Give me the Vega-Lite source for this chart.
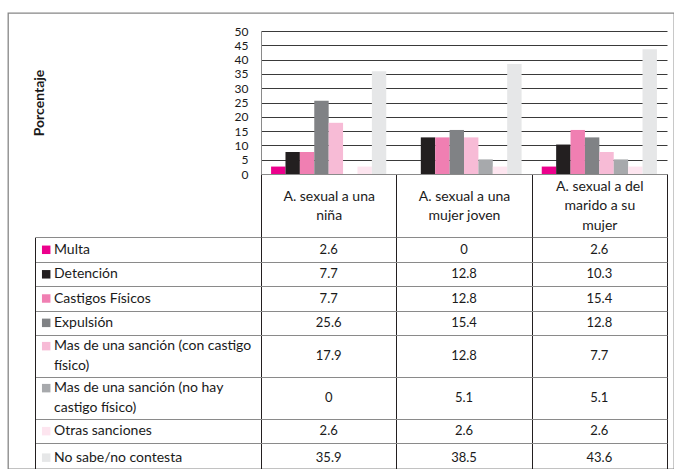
{
  "$schema": "https://vega.github.io/schema/vega-lite/v6.json",
  "width": 666,
  "height": 456,
  "padding": {"left": 8, "top": 13, "right": 0, "bottom": 0},
  "autosize": {"type": "none"},
  "background": "white",
  "config": {
    "font": "Lato",
    "view": {"stroke": "#868686", "strokeWidth": 1.3},
    "axis": {"labelFont": "Lato", "titleFont": "Lato", "labelColor": "#1a1a1a", "titleColor": "#1a1a1a"}
  },
  "datasets": {
    "datos": [
      {"categoria": "A. sexual a una niña", "serie": "Multa", "orden": 1, "valor": 2.6},
      {"categoria": "A. sexual a una mujer joven", "serie": "Multa", "orden": 1, "valor": 0},
      {"categoria": "A. sexual a del marido a su mujer", "serie": "Multa", "orden": 1, "valor": 2.6},
      {"categoria": "A. sexual a una niña", "serie": "Detención", "orden": 2, "valor": 7.7},
      {"categoria": "A. sexual a una mujer joven", "serie": "Detención", "orden": 2, "valor": 12.8},
      {"categoria": "A. sexual a del marido a su mujer", "serie": "Detención", "orden": 2, "valor": 10.3},
      {"categoria": "A. sexual a una niña", "serie": "Castigos Físicos", "orden": 3, "valor": 7.7},
      {"categoria": "A. sexual a una mujer joven", "serie": "Castigos Físicos", "orden": 3, "valor": 12.8},
      {"categoria": "A. sexual a del marido a su mujer", "serie": "Castigos Físicos", "orden": 3, "valor": 15.4},
      {"categoria": "A. sexual a una niña", "serie": "Expulsión", "orden": 4, "valor": 25.6},
      {"categoria": "A. sexual a una mujer joven", "serie": "Expulsión", "orden": 4, "valor": 15.4},
      {"categoria": "A. sexual a del marido a su mujer", "serie": "Expulsión", "orden": 4, "valor": 12.8},
      {"categoria": "A. sexual a una niña", "serie": "Mas de una sanción (con castigo\n físico)", "orden": 5, "valor": 17.9},
      {"categoria": "A. sexual a una mujer joven", "serie": "Mas de una sanción (con castigo\n físico)", "orden": 5, "valor": 12.8},
      {"categoria": "A. sexual a del marido a su mujer", "serie": "Mas de una sanción (con castigo\n físico)", "orden": 5, "valor": 7.7},
      {"categoria": "A. sexual a una niña", "serie": "Mas de una sanción (no hay\ncastigo físico)", "orden": 6, "valor": 0},
      {"categoria": "A. sexual a una mujer joven", "serie": "Mas de una sanción (no hay\ncastigo físico)", "orden": 6, "valor": 5.1},
      {"categoria": "A. sexual a del marido a su mujer", "serie": "Mas de una sanción (no hay\ncastigo físico)", "orden": 6, "valor": 5.1},
      {"categoria": "A. sexual a una niña", "serie": "Otras sanciones", "orden": 7, "valor": 2.6},
      {"categoria": "A. sexual a una mujer joven", "serie": "Otras sanciones", "orden": 7, "valor": 2.6},
      {"categoria": "A. sexual a del marido a su mujer", "serie": "Otras sanciones", "orden": 7, "valor": 2.6},
      {"categoria": "A. sexual a una niña", "serie": "No sabe/no contesta", "orden": 8, "valor": 35.9},
      {"categoria": "A. sexual a una mujer joven", "serie": "No sabe/no contesta", "orden": 8, "valor": 38.5},
      {"categoria": "A. sexual a del marido a su mujer", "serie": "No sabe/no contesta", "orden": 8, "valor": 43.6}
    ]
  },
  "data": {"name": "datos"},
  "resolve": {
    "scale": {"x": "independent", "y": "independent"},
    "axis": {"x": "independent", "y": "independent"}
  },
  "layer": [
    {
      "mark": {"type": "bar"},
      "encoding": {
        "x": {
          "field": "categoria", "type": "nominal", "sort": null,
          "scale": {"domain": ["A. sexual a una niña", "A. sexual a una mujer joven", "A. sexual a del marido a su mujer"], "range": [253, 659], "paddingInner": 0, "paddingOuter": 0},
          "axis": {
            "orient": "bottom", "offset": -295, "title": null, "labelAngle": 0,
            "labelExpr": "split(replace(replace(replace(datum.label, 'una ', 'una|'), 'del ', 'del|'), 'su ', 'su|'), '|')",
            "labelFontSize": 14, "labelLineHeight": 19.5, "labelLimit": 0, "labelPadding": -51,
            "labelBaseline": {"condition": {"test": "datum.value === 'A. sexual a del marido a su mujer'", "value": "middle"}, "value": "line-top"},
            "ticks": true, "tickBand": "extent", "tickSize": 63, "tickColor": "#231f20", "tickWidth": 1,
            "domain": true, "domainColor": "#8a8a8a", "domainWidth": 1, "grid": false
          }
        },
        "xOffset": {
          "field": "serie", "type": "nominal", "sort": null,
          "scale": {"domain": ["Multa", "Detención", "Castigos Físicos", "Expulsión", "Mas de una sanción (con castigo\n físico)", "Mas de una sanción (no hay\ncastigo físico)", "Otras sanciones", "No sabe/no contesta"], "paddingInner": 0, "paddingOuter": 0.7}
        },
        "y": {
          "field": "valor", "type": "quantitative",
          "scale": {"domain": [0, 50], "range": [161, 18], "nice": false},
          "axis": {
            "orient": "left", "offset": -253, "values": [0, 5, 10, 15, 20, 25, 30, 35, 40, 45, 50],
            "grid": true, "gridColor": "#3a3a3a", "gridWidth": 1,
            "domain": true, "domainColor": "#8a8a8a", "domainWidth": 1,
            "ticks": false, "tickSize": 0, "labelPadding": 13, "labelFontSize": 12, "labelOverlap": false,
            "title": "Porcentaje", "titleFontSize": 14, "titleFontWeight": "bold", "titleAngle": 270,
            "titleX": -221.5, "titleY": 89.5, "titleAlign": "center", "titleBaseline": "middle"
          }
        },
        "color": {
          "field": "serie", "type": "nominal", "sort": null,
          "scale": {
            "domain": ["Multa", "Detención", "Castigos Físicos", "Expulsión", "Mas de una sanción (con castigo\n físico)", "Mas de una sanción (no hay\ncastigo físico)", "Otras sanciones", "No sabe/no contesta"],
            "range": ["#ec008c", "#231f20", "#f07fb2", "#808285", "#f7bbd6", "#a7a9ac", "#fde5ef", "#e6e7e8"]
          },
          "legend": null
        }
      }
    },
    {
      "mark": {"type": "text", "fontSize": 13, "color": "#1a1a1a", "baseline": "middle", "align": "center"},
      "encoding": {
        "x": {
          "field": "categoria", "type": "nominal", "sort": null,
          "scale": {"domain": ["A. sexual a una niña", "A. sexual a una mujer joven", "A. sexual a del marido a su mujer"], "range": [27, 659], "paddingInner": 0, "paddingOuter": 0.835, "align": 1},
          "axis": {"orient": "top", "grid": true, "tickBand": "extent", "gridColor": "#231f20", "gridWidth": 1, "labels": false, "ticks": false, "domain": false, "title": null}
        },
        "y": {
          "field": "orden", "type": "quantitative",
          "scale": {"domain": [0.5, 1.5, 2.5, 3.5, 4.5, 5.5, 6.5, 7.5, 8.5], "range": [224.3, 249.3, 273.3, 297.7, 322, 363.7, 406, 430.3, 459], "nice": false, "zero": false},
          "axis": {"orient": "left", "offset": -27, "values": [0.5, 1.5, 2.5, 3.5, 4.5, 5.5, 6.5, 7.5, 8.5], "grid": true, "gridColor": "#8a8a8a", "gridWidth": 1, "domain": true, "domainColor": "#231f20", "domainWidth": 1, "labels": false, "ticks": false, "title": null}
        },
        "text": {"field": "valor", "type": "quantitative"}
      }
    },
    {
      "transform": [
        {"filter": {"field": "categoria", "equal": "A. sexual a una niña"}},
        {"filter": "indexof(datum.serie, '\\n') < 0"}
      ],
      "mark": {"type": "square", "size": 72, "opacity": 1, "xOffset": 11.2},
      "encoding": {
        "x": {"datum": 0, "type": "quantitative", "scale": {"domain": [0, 1], "range": [27, 253]}, "axis": null},
        "y": {
          "field": "orden", "type": "quantitative",
          "scale": {"domain": [0.5, 1.5, 2.5, 3.5, 4.5, 5.5, 6.5, 7.5, 8.5], "range": [224.3, 249.3, 273.3, 297.7, 322, 363.7, 406, 430.3, 459], "nice": false, "zero": false},
          "axis": null
        },
        "color": {"field": "serie", "type": "nominal", "sort": null, "legend": null}
      }
    },
    {
      "transform": [
        {"filter": {"field": "categoria", "equal": "A. sexual a una niña"}},
        {"filter": "indexof(datum.serie, '\\n') >= 0"}
      ],
      "mark": {"type": "square", "size": 72, "opacity": 1, "xOffset": 11.2, "yOffset": -9.7},
      "encoding": {
        "x": {"datum": 0, "type": "quantitative", "scale": {"domain": [0, 1], "range": [27, 253]}, "axis": null},
        "y": {
          "field": "orden", "type": "quantitative",
          "scale": {"domain": [0.5, 1.5, 2.5, 3.5, 4.5, 5.5, 6.5, 7.5, 8.5], "range": [224.3, 249.3, 273.3, 297.7, 322, 363.7, 406, 430.3, 459], "nice": false, "zero": false},
          "axis": null
        },
        "color": {"field": "serie", "type": "nominal", "sort": null, "legend": null}
      }
    },
    {
      "transform": [
        {"filter": {"field": "categoria", "equal": "A. sexual a una niña"}},
        {"filter": "indexof(datum.serie, '\\n') < 0"}
      ],
      "mark": {"type": "text", "align": "left", "baseline": "middle", "dx": 19, "fontSize": 14, "color": "#1a1a1a"},
      "encoding": {
        "x": {"datum": 0, "type": "quantitative", "scale": {"domain": [0, 1], "range": [27, 253]}, "axis": null},
        "y": {
          "field": "orden", "type": "quantitative",
          "scale": {"domain": [0.5, 1.5, 2.5, 3.5, 4.5, 5.5, 6.5, 7.5, 8.5], "range": [224.3, 249.3, 273.3, 297.7, 322, 363.7, 406, 430.3, 459], "nice": false, "zero": false},
          "axis": null
        },
        "text": {"field": "serie", "type": "nominal"}
      }
    },
    {
      "transform": [
        {"filter": {"field": "categoria", "equal": "A. sexual a una niña"}},
        {"filter": "indexof(datum.serie, '\\n') >= 0"}
      ],
      "mark": {"type": "text", "align": "left", "baseline": "middle", "dx": 19, "dy": -9.7, "fontSize": 14, "lineBreak": "\n", "lineHeight": 19.4, "color": "#1a1a1a"},
      "encoding": {
        "x": {"datum": 0, "type": "quantitative", "scale": {"domain": [0, 1], "range": [27, 253]}, "axis": null},
        "y": {
          "field": "orden", "type": "quantitative",
          "scale": {"domain": [0.5, 1.5, 2.5, 3.5, 4.5, 5.5, 6.5, 7.5, 8.5], "range": [224.3, 249.3, 273.3, 297.7, 322, 363.7, 406, 430.3, 459], "nice": false, "zero": false},
          "axis": null
        },
        "text": {"field": "serie", "type": "nominal"}
      }
    }
  ]
}
